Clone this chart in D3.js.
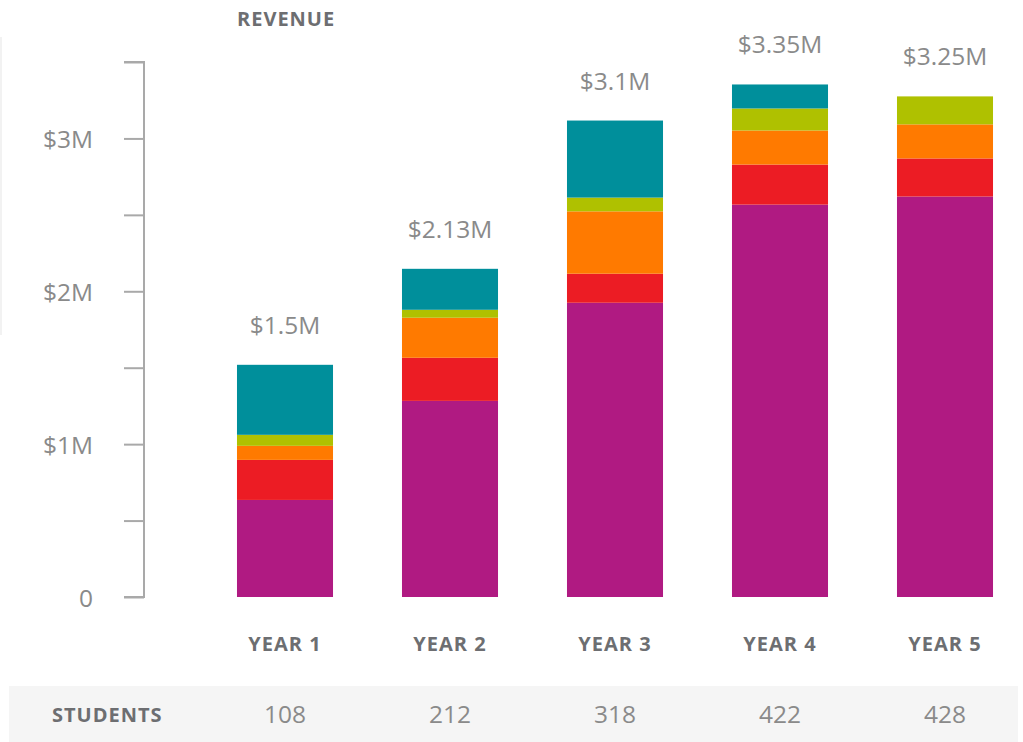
<!DOCTYPE html>
<html><head><meta charset="utf-8">
<script src="https://cdn.jsdelivr.net/npm/d3@7"></script>
<style>
html,body{margin:0;padding:0;background:#fff;}
svg{display:block;font-family:"Open Sans","Noto Sans",sans-serif;}
</style></head>
<body><svg id="chart" width="1023" height="742"></svg>
<script>
const categories = ["YEAR 1","YEAR 2","YEAR 3","YEAR 4","YEAR 5"];
const seriesNames = ["s1","s2","s3","s4","s5"];
const series1 = [0.635, 1.283, 1.925, 2.567, 2.62];
const series2 = [0.262, 0.282, 0.19, 0.262, 0.249];
const series3 = [0.092, 0.262, 0.408, 0.223, 0.223];
const series4 = [0.072, 0.052, 0.09, 0.144, 0.183];
const series5 = [0.458, 0.268, 0.504, 0.157, 0];
const totalLabels = ["$1.5M","$2.13M","$3.1M","$3.35M","$3.25M"];
const students = [108, 212, 318, 422, 428];
const yTicks = [0, 0.5, 1, 1.5, 2, 2.5, 3, 3.5];
const yTickLabels = {0:"0", 1:"$1M", 2:"$2M", 3:"$3M"};
const colors = ["#b01a82","#ec1c24","#ff7a00","#afc100","#008f9b"];

const allSeries = [series1, series2, series3, series4, series5];
const rows = categories.map((c,i)=>{
  const r = {cat:c};
  seriesNames.forEach((s,k)=> r[s] = allSeries[k][i]);
  return r;
});
const stacked = d3.stack().keys(seriesNames)(rows);

const svg = d3.select("#chart");
const y = d3.scaleLinear().domain([0,3.5]).range([597,62]);
const x = d3.scaleBand().domain(categories).range([202.5,1027.5]).paddingInner(0.418).paddingOuter(0.209);

const lightText = "#8a8a8a", boldText = "#6d6e71";

// faint left rule
svg.append("line").attr("x1",1).attr("x2",1).attr("y1",37).attr("y2",335)
  .attr("stroke","#eeeeee").attr("stroke-width",1.5);

// students band
svg.append("rect").attr("x",9).attr("y",686).attr("width",1009).attr("height",56).attr("fill","#f5f5f5");

// axis
const axisG = svg.append("g").attr("transform","translate(144,0)");
axisG.call(d3.axisLeft(y).tickValues(yTicks).tickSize(20).tickFormat(""));
axisG.select(".domain").attr("d", `M-20,${y(3.5)}H0V${y(0)}H-20`).attr("stroke","#a9a9a9").attr("stroke-width",2).attr("fill","none");
axisG.selectAll(".tick line").attr("stroke","#a9a9a9").attr("stroke-width",2);
svg.append("g").selectAll("text").data(yTicks.filter(t=>yTickLabels[t]!==undefined)).join("text")
  .attr("x",93).attr("y",d=>y(d)).attr("dy","0.4em")
  .attr("text-anchor","end").attr("font-size",24.5).attr("font-weight",400).attr("fill",lightText)
  .text(d=>yTickLabels[d]);

// bars
svg.append("g").selectAll("g").data(stacked).join("g")
  .attr("fill",(d,i)=>colors[i])
  .selectAll("rect").data(d=>d).join("rect")
  .attr("x",d=>x(d.data.cat)).attr("width",x.bandwidth())
  .attr("y",d=>y(d[1])).attr("height",d=>y(d[0])-y(d[1]));

// totals
const tops = rows.map((r,i)=>d3.sum(allSeries, s=>s[i]));
svg.append("g").selectAll("text").data(categories).join("text")
  .attr("x",d=>x(d)+x.bandwidth()/2).attr("y",(d,i)=>y(tops[i])-31)
  .attr("text-anchor","middle").attr("font-size",24.5).attr("font-weight",400).attr("fill",lightText)
  .text((d,i)=>totalLabels[i]);

// category labels
svg.append("g").selectAll("text").data(categories).join("text")
  .attr("x",d=>x(d)+x.bandwidth()/2).attr("y",651)
  .attr("text-anchor","middle").attr("font-size",20).attr("font-weight",700).attr("letter-spacing",1).attr("fill",boldText)
  .text(d=>d);

// title
svg.append("text").attr("x",237).attr("y",26).attr("font-size",20).attr("font-weight",700).attr("letter-spacing",1)
  .attr("fill",boldText).text("REVENUE");

// students row
svg.append("text").attr("x",52).attr("y",722).attr("font-size",20).attr("font-weight",700).attr("letter-spacing",1)
  .attr("fill",boldText).text("STUDENTS");
svg.append("g").selectAll("text").data(categories).join("text")
  .attr("x",d=>x(d)+x.bandwidth()/2).attr("y",723)
  .attr("text-anchor","middle").attr("font-size",24.5).attr("font-weight",400).attr("fill",lightText)
  .text((d,i)=>students[i]);
</script></body></html>
